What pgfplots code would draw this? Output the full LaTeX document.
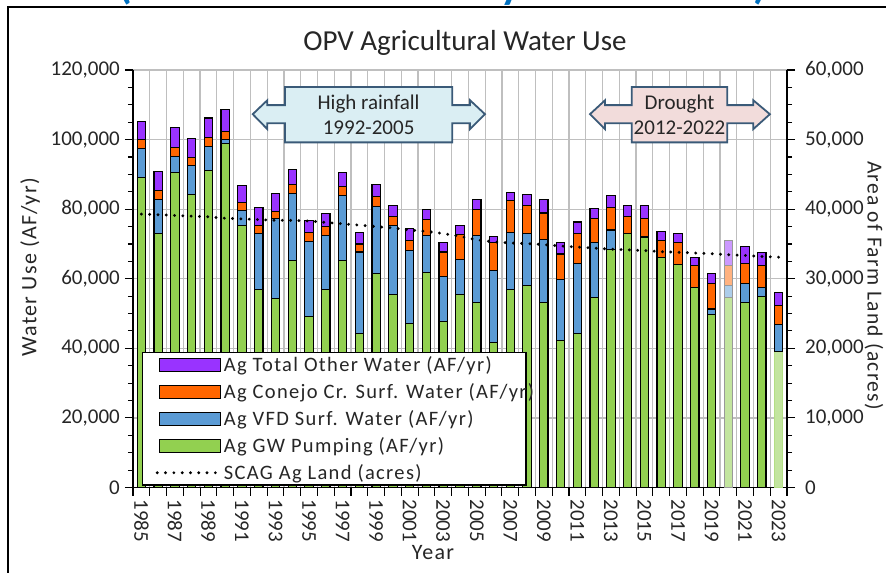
\documentclass[border=0pt]{standalone}
\usepackage{pgfplots}
\pgfplotsset{compat=1.18}
\usepackage{pgfplotstable}
\usepackage{fontspec}
\setmainfont{Carlito}
\newfontfamily\spaced{Carlito}[LetterSpace=6]
\newfontfamily\legspaced{Carlito}[LetterSpace=6.5]
\newcommand\tickfont{\fontsize{21bp}{25bp}\selectfont}
\newcommand\legfont{\legspaced\fontsize{20.5bp}{24bp}\selectfont}
\newcommand\labfont{\spaced\fontsize{22bp}{26bp}\selectfont}
\newcommand\rlabfont{\spaced\fontsize{21.5bp}{26bp}\selectfont}
\newcommand\titfont{\fontsize{29bp}{34bp}\selectfont}
\newcommand\calfont{\fontsize{21bp}{25.5bp}\selectfont}
\definecolor{cgw}{HTML}{92D050}
\definecolor{cvfd}{HTML}{5B9BD5}
\definecolor{ccon}{HTML}{FF6600}
\definecolor{coth}{HTML}{9933FF}
\definecolor{cgrid}{HTML}{BFBFBF}
\definecolor{calblue}{HTML}{DAEEF3}
\definecolor{calpink}{HTML}{F2DCDB}
\definecolor{caledge}{HTML}{3A5A78}
\definecolor{ctitle}{HTML}{0070C0}
\definecolor{ctext}{HTML}{262626}

\pgfplotsset{
  barleg/.style={legend image code/.code={\draw[##1, line width=1.1bp] (0bp,-6.5bp) rectangle (61bp,6.5bp);}},
  lineleg/.style={legend image code/.code={\draw[##1] (-2bp,0bp) -- (61bp,0bp);}},
  mybar/.style={ybar, bar width=0.5, bar shift=0pt, draw=black, line width=1.1bp, barleg},
  fadebar/.style={ybar, bar width=0.5, bar shift=0pt, draw=black!40, line width=1.1bp, forget plot},
}

% year index: 0 = 1985 ... 38 = 2023 (2020 = 35 drawn faded)
\pgfplotstableread{
idx gw vfd con oth
0 89100 8400 2600 5100
1 73100 9600 2600 5400
2 90500 4600 2700 5600
3 84200 8400 2200 5400
4 91000 7000 2600 5600
5 99000 900 2500 6300
6 75200 4300 2500 4900
7 57000 16100 2300 5200
8 54200 23000 2200 5000
9 65200 19400 2400 4300
10 49200 21400 2600 3600
11 57000 15400 2600 3800
12 65200 18700 2500 4200
13 44200 23500 2300 3200
14 61400 19400 2900 3300
15 55600 19600 2700 3200
16 47100 21000 2800 3600
17 61900 10500 4700 2900
18 47600 13100 7000 2800
19 55600 9900 7200 2700
20 53300 19100 7600 2700
21 41700 20700 8000 1700
22 57000 16400 9100 2400
23 58100 15000 7900 3300
24 53300 18100 7500 3800
25 42300 17600 7200 3200
26 44200 20300 8600 3200
27 54500 16000 6800 2800
28 68500 5500 6400 3400
29 73100 0 4800 3200
30 72000 0 5200 3800
31 66100 0 4800 2700
32 64000 0 6400 2700
33 57500 0 6300 2400
34 49700 1600 7300 2800
36 53300 5300 5700 5000
37 54900 2600 6300 3800
38 39000 7800 5500 3800
}\datamain
\pgfplotstableread{
idx gw vfd con oth
35 54500 3500 5800 7100
}\datafade
\pgfplotstableread{
idx land
0 39300
1 39200
2 39100
3 39000
4 38900
5 38700
6 38600
7 38500
8 38400
9 38400
10 38300
11 38100
12 37900
13 37700
14 37500
15 37300
16 37000
17 36800
18 36500
19 36100
20 35600
21 35300
22 35150
23 35050
24 34900
25 34700
26 34550
27 34400
28 34250
29 34150
30 34050
31 33900
32 33800
33 33700
34 33600
35 33450
36 33350
37 33200
38 33100
}\landdata

\begin{document}
\begin{tikzpicture}
\begin{axis}[
  at={(0,0)}, anchor=south west,
  scale only axis, width=654bp, height=417.5bp,
  xmin=-0.5, xmax=38.5, ymin=0, ymax=120000,
  axis x line*=bottom, axis y line*=left,
  axis line style={black, line width=1.3bp, -},
  tick pos=left,
  xtick={-0.5,0.5,...,38.5}, xticklabels={},
  extra x ticks={0,2,...,38},
  extra x tick labels={1985,1987,1989,1991,1993,1995,1997,1999,2001,2003,2005,2007,2009,2011,2013,2015,2017,2019,2021,2023},
  extra x tick style={grid=none, major tick length=0pt,
     xticklabel style={rotate=-90, anchor=west, xshift=12bp}},
  xmajorgrids, ymajorgrids,
  grid style={cgrid, line width=1.3bp},
  ytick={0,20000,...,120000}, minor y tick num=3,
  tick align=outside, major tick length=8bp, minor tick length=5bp,
  tick style={black, line width=1.1bp},
  scaled y ticks=false,
  /pgf/number format/assume math mode=true,
  every tick label/.append style={font=\tickfont, inner sep=0pt, text=ctext},
  yticklabel style={/pgf/number format/fixed, /pgf/number format/1000 sep={,}, /tikz/xshift=-5bp},
  title={OPV Agricultural Water Use},
  every axis title/.style={at={(axis description cs:0.5076,1.0647)}, anchor=center, font=\titfont, text=ctext},
  xlabel={Year},
  every axis x label/.style={at={(axis description cs:0.4587,0)}, yshift=-65.5bp, anchor=center, font=\labfont, text=ctext},
  ylabel={Water Use (AF/yr)},
  every axis y label/.style={at={(axis description cs:-0.1575,0.527)}, rotate=90, anchor=center, font=\labfont, text=ctext},
  legend style={at={(axis description cs:0.0138,0.3246)}, anchor=north west,
     draw=black, line width=1.3bp, fill=white, font=\legfont, text=ctext,
     inner xsep=13bp, inner ysep=2bp, row sep=6.5bp},
  legend cell align=left,
]
% stacked bars drawn as overlapping cumulative totals
\addplot[mybar, fill=coth] table[x=idx, y expr=\thisrow{gw}+\thisrow{vfd}+\thisrow{con}+\thisrow{oth}] {\datamain};
\addlegendentry{Ag Total Other Water (AF/yr)}
\addplot[mybar, fill=ccon] table[x=idx, y expr=\thisrow{gw}+\thisrow{vfd}+\thisrow{con}] {\datamain};
\addlegendentry{\makebox[287bp][l]{Ag Conejo Cr. Surf. Water (AF/yr)}}
\addplot[mybar, fill=cvfd] table[x=idx, y expr=\thisrow{gw}+\thisrow{vfd}] {\datamain};
\addlegendentry{Ag VFD Surf. Water (AF/yr)}
\addplot[mybar, fill=cgw] table[x=idx, y=gw] {\datamain};
\addlegendentry{Ag GW Pumping (AF/yr)}
\addlegendimage{lineleg, black, line width=3.2bp, dash pattern=on 0pt off 8.3bp, line cap=round}
\addlegendentry{SCAG Ag Land (acres)}
% faded (provisional) values
\addplot[fadebar, fill=coth!50!white] table[x=idx, y expr=\thisrow{gw}+\thisrow{vfd}+\thisrow{con}+\thisrow{oth}] {\datafade};
\addplot[fadebar, fill=ccon!50!white] table[x=idx, y expr=\thisrow{gw}+\thisrow{vfd}+\thisrow{con}] {\datafade};
\addplot[fadebar, fill=cvfd!50!white] table[x=idx, y expr=\thisrow{gw}+\thisrow{vfd}] {\datafade};
\addplot[fadebar, fill=cgw!55!white] table[x=idx, y=gw] {\datafade};
\addplot[fadebar, fill=cgw!55!white, draw=cgw!70!white] coordinates {(38,39000)};
\addplot[only marks, mark=-, mark size=4.2bp, mark options={black, line width=1.1bp}, forget plot] coordinates {(38,39000)};
% callouts
\draw[caledge, line width=1.8bp, fill=calblue, line join=miter]
  (axis cs:6.64,107300) -- (axis cs:7.51,111300) -- (axis cs:7.51,109900) -- (axis cs:8.56,109900)
  -- (axis cs:8.56,115100) -- (axis cs:18.54,115100) -- (axis cs:18.54,109900) -- (axis cs:19.6,109900)
  -- (axis cs:19.6,111300) -- (axis cs:20.49,107300) -- (axis cs:19.6,103000) -- (axis cs:19.6,104700)
  -- (axis cs:18.54,104700) -- (axis cs:18.54,99200) -- (axis cs:8.56,99200) -- (axis cs:8.56,104700)
  -- (axis cs:7.51,104700) -- (axis cs:7.51,103000) -- cycle;
\node[font=\calfont, text=ctext, align=center] at (axis cs:13.55,107150) {High rainfall\\1992-2005};
\draw[caledge, line width=1.8bp, fill=calpink, line join=miter]
  (axis cs:26.75,107300) -- (axis cs:27.65,111300) -- (axis cs:27.65,109900) -- (axis cs:29.24,109900)
  -- (axis cs:29.24,115100) -- (axis cs:34.94,115100) -- (axis cs:34.94,109900) -- (axis cs:36.49,109900)
  -- (axis cs:36.49,111300) -- (axis cs:37.48,107300) -- (axis cs:36.49,103000) -- (axis cs:36.49,104700)
  -- (axis cs:34.94,104700) -- (axis cs:34.94,99200) -- (axis cs:29.24,99200) -- (axis cs:29.24,104700)
  -- (axis cs:27.65,104700) -- (axis cs:27.65,103000) -- cycle;
\node[font=\calfont, text=ctext, align=center] at (axis cs:32.09,107150) {Drought\\2012-2022};
\end{axis}

\begin{axis}[
  at={(0,0)}, anchor=south west,
  scale only axis, width=654bp, height=417.5bp,
  xmin=-0.5, xmax=38.5, ymin=0, ymax=60000,
  axis y line*=right, axis x line=none,
  axis line style={black, line width=1.3bp, -},
  ytick pos=right,
  ytick={0,10000,...,60000}, minor y tick num=3,
  tick align=outside, major tick length=8bp, minor tick length=5bp,
  tick style={black, line width=1.1bp},
  scaled y ticks=false,
  /pgf/number format/assume math mode=true,
  every tick label/.append style={font=\tickfont, inner sep=0pt, text=ctext},
  yticklabel style={/pgf/number format/fixed, /pgf/number format/1000 sep={,}, /tikz/xshift=10bp},
  ylabel={Area of Farm Land (acres)},
  every axis y label/.style={at={(axis description cs:1.1330,0.4838)}, rotate=-90, anchor=center, font=\rlabfont, text=ctext},
]
\addplot[black, line width=3.2bp, dash pattern=on 0pt off 8.3bp, line cap=round] table[x=idx, y=land] {\landdata};
\end{axis}

% outer frame and cut-off heading
\draw[black, line width=2bp] (-125bp,-95bp) -- (-125bp,480.5bp) -- (760bp,480.5bp);
\node[anchor=base, text=ctitle, font=\fontsize{44bp}{50bp}\selectfont\bfseries, inner sep=0pt] at (-8bp,489bp) {(};
\node[anchor=base, text=ctitle, font=\fontsize{44bp}{50bp}\selectfont\bfseries, inner sep=0pt] at (378bp,489bp) {y};
\node[anchor=base, text=ctitle, font=\fontsize{44bp}{50bp}\selectfont\bfseries, inner sep=0pt] at (627bp,489bp) {)};
\pgfresetboundingbox
\path[use as bounding box] (-133bp,-85.5bp) rectangle (753bp,487.5bp);
\end{tikzpicture}
\end{document}
